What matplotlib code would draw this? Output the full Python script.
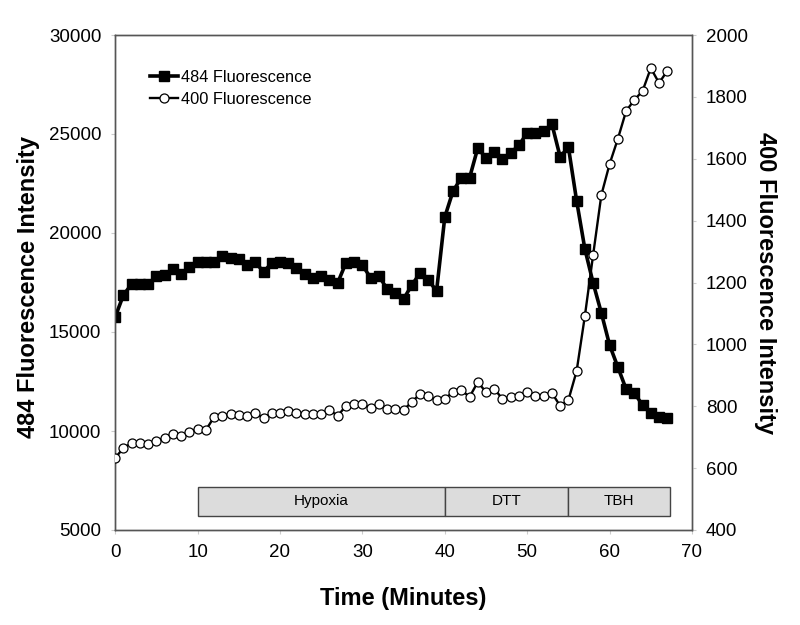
import matplotlib
matplotlib.use("Agg")
import matplotlib.pyplot as plt
from matplotlib.patches import Rectangle

plt.rcParams['font.family'] = ['Liberation Sans', 'DejaVu Sans']

time_min = list(range(68))
f484 = [15760, 16870, 17420, 17420, 17420, 17830, 17880, 18180, 17930, 18280,
        18540, 18540, 18540, 18840, 18740, 18690, 18380, 18540, 18030, 18490,
        18540, 18490, 18230, 17930, 17730, 17830, 17630, 17480, 18490, 18540,
        18380, 17730, 17830, 17170, 16970, 16670, 17370, 17980, 17630, 17070,
        20810, 22120, 22780, 22780, 24290, 23790, 24090, 23740, 24040, 24440,
        25050, 25050, 25150, 25500, 23840, 24340, 21620, 19190, 17480, 15960,
        14340, 13230, 12120, 11920, 11310, 10910, 10710, 10660]
f400 = [633, 665, 681, 681, 678, 688, 698, 710, 704, 717,
        727, 723, 765, 769, 775, 772, 769, 778, 762, 778,
        778, 785, 778, 775, 775, 775, 788, 769, 801, 807,
        807, 794, 807, 791, 791, 788, 814, 840, 833, 820,
        824, 846, 853, 830, 878, 846, 856, 824, 830, 833,
        846, 833, 833, 843, 801, 820, 914, 1092, 1289, 1483,
        1583, 1664, 1754, 1790, 1819, 1893, 1845, 1884]

phase_labels = ['Hypoxia', 'DTT', 'TBH']
phase_start = [10, 40, 55]
phase_end = [40, 55, 67.3]
phase_low, phase_high = 5710, 7170

fig = plt.figure(figsize=(8, 6.25), dpi=100)
ax = fig.add_axes([0.144, 0.152, 0.721, 0.792])
ax2 = ax.twinx()

ax.set_xlim(0, 70)
ax.set_ylim(5000, 30000)
ax2.set_ylim(400, 2000)
ax.set_xticks(range(0, 71, 10))
ax.set_yticks(range(5000, 30001, 5000))
ax2.set_yticks(range(400, 2001, 200))

l1, = ax.plot(time_min, f484, color='black', lw=2.6, marker='s', ms=7,
              mfc='black', mec='black', zorder=3)
l2, = ax2.plot(time_min, f400, color='black', lw=1.7, marker='o', ms=6.5,
               mfc='white', mec='black', mew=0.9, zorder=3)

for lab, s, e in zip(phase_labels, phase_start, phase_end):
    ax.add_patch(Rectangle((s, phase_low), e - s, phase_high - phase_low,
                           facecolor='#dcdcdc', edgecolor='#444444', lw=1.0, zorder=2))
    ax.text((s + e) / 2, (phase_low + phase_high) / 2, lab, ha='center', va='center',
            fontsize=11, zorder=4)

for a in (ax, ax2):
    for sp in a.spines.values():
        sp.set_color('#555555')
        sp.set_linewidth(1.0)
    a.tick_params(direction='out', length=3, color='#cccccc', labelsize=13.5, pad=7)

ax.set_xlabel('Time (Minutes)', fontsize=17, fontweight='bold', labelpad=19)
ax.set_ylabel('484 Fluorescence Intensity', fontsize=17, fontweight='bold', va='center')
ax.yaxis.set_label_coords(-0.151, 0.49)
ax2.set_ylabel('400 Fluorescence Intensity', fontsize=17, fontweight='bold',
               rotation=270, va='center')
ax2.yaxis.set_label_coords(1.127, 0.5)

ax2.legend([l1, l2], ['484 Fluorescence', '400 Fluorescence'], loc='upper left',
           bbox_to_anchor=(0.035, 0.96), frameon=False, fontsize=11.8,
           handlelength=1.7, handletextpad=0.2, labelspacing=0.45)

fig.savefig('out.png', dpi=100)
